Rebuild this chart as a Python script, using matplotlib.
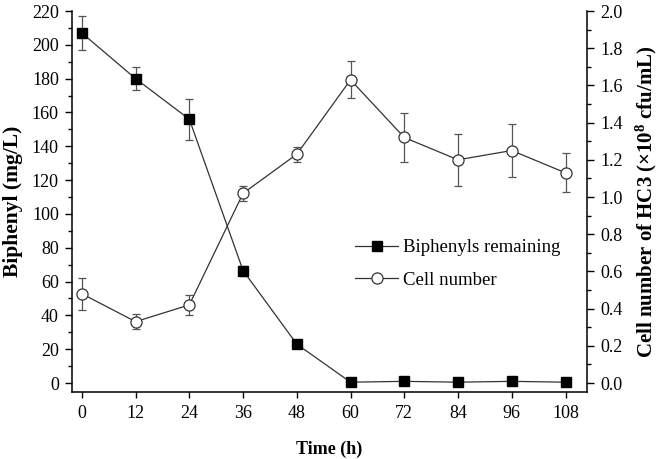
import matplotlib
matplotlib.use("Agg")
import matplotlib.pyplot as plt
from matplotlib.ticker import MultipleLocator
from matplotlib.lines import Line2D

time_h = [0, 12, 24, 36, 48, 60, 72, 84, 96, 108]
biphenyl = [207, 180, 156, 66.5, 23, 0.5, 1, 0.5, 1, 0.5]
biphenyl_err = [10, 7, 12, 3, 2, 0, 0, 0, 0, 0]
cells = [0.48, 0.33, 0.42, 1.02, 1.23, 1.63, 1.32, 1.20, 1.25, 1.13]
cells_err = [0.085, 0.04, 0.055, 0.04, 0.04, 0.10, 0.13, 0.14, 0.14, 0.105]
xticks = [0, 12, 24, 36, 48, 60, 72, 84, 96, 108]
right_ticks = [0.0, 0.2, 0.4, 0.6, 0.8, 1.0, 1.2, 1.4, 1.6, 1.8, 2.0]
series_labels = ['Biphenyls remaining', 'Cell number']

plt.rcParams['font.family'] = ['Liberation Serif', 'DejaVu Serif']
plt.rcParams['mathtext.fontset'] = 'custom'
plt.rcParams['mathtext.rm'] = 'Liberation Serif'
plt.rcParams['mathtext.bf'] = 'Liberation Serif:bold'

fig = plt.figure(figsize=(6.66, 4.59), dpi=100)
ax = fig.add_axes([72/666, 1-392/459, (587-72)/666, (392-11)/459])
ax2 = ax.twinx()

lc = '#333333'
ec = '#555555'
ax.errorbar(time_h, biphenyl, yerr=biphenyl_err, color=lc, lw=0.9,
            marker='s', ms=7.3, mfc='black', mec='black',
            ecolor=ec, elinewidth=0.9, capsize=3.2, capthick=0.9, zorder=3)
ax2.errorbar(time_h, cells, yerr=cells_err, color=lc, lw=0.9,
             marker='o', ms=8, mfc='white', mec='#333333', mew=0.9,
             ecolor=ec, elinewidth=0.9, capsize=3.2, capthick=0.9, zorder=3)

ax.set_xlim(-2.2, 112.8)
ax.set_ylim(-5.3, 220)
ax2.set_ylim(-5.3/110, 2.0)
ax.set_xticks(xticks)
ax.yaxis.set_major_locator(MultipleLocator(20))
ax.yaxis.set_minor_locator(MultipleLocator(10))
ax2.set_yticks(right_ticks)
ax2.set_yticklabels([f"{v:.1f}" for v in right_ticks])
ax2.yaxis.set_minor_locator(MultipleLocator(0.1))

for a in (ax, ax2):
    a.spines['top'].set_visible(False)
    for s in a.spines.values():
        s.set_linewidth(1.1)
    a.tick_params(which='major', direction='out', length=5, width=1.0,
                  labelsize=13, pad=4.5)
    a.tick_params(which='minor', direction='out', length=2.7, width=1.0)
ax.spines['right'].set_visible(False)
ax2.spines['left'].set_visible(False)
ax2.spines['bottom'].set_visible(False)
ax.tick_params(axis='x', length=4.5)

ax.set_xlabel('Time (h)', fontsize=13, fontweight='bold', labelpad=14)
ax.set_ylabel('Biphenyl (mg/L)', fontsize=15.5, fontweight='bold', labelpad=6)
ax2.set_ylabel(r'Cell number of HC3 ($\mathbf{\times 10^8}$ cfu/mL)', fontsize=15,
               fontweight='bold', labelpad=8)

handles = [
    Line2D([], [], color=lc, lw=0.9, marker='s', ms=7.3, mfc='black', mec='black'),
    Line2D([], [], color=lc, lw=0.9, marker='o', ms=8, mfc='white', mec='#333333', mew=0.9),
]
ax.legend(handles, series_labels, loc='center left',
          bbox_to_anchor=((355-72)/515, (392-264)/381), frameon=False,
          borderaxespad=0, borderpad=0,
          fontsize=13.5, handlelength=2.3, handletextpad=0.25, labelspacing=0.8)

fig.savefig('out.png', dpi=100)
